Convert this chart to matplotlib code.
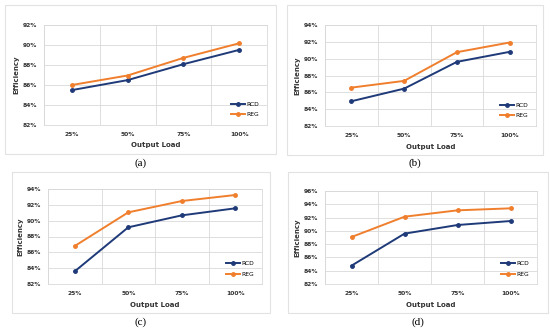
import matplotlib.pyplot as plt
from matplotlib.patches import Rectangle
from matplotlib.ticker import FuncFormatter

loads = ["25%", "50%", "75%", "100%"]

rcd_a = [85.49, 86.49, 88.08, 89.51]
reg_a = [86.0, 86.95, 88.71, 90.17]
rcd_b = [84.94, 86.44, 89.62, 90.81]
reg_b = [86.56, 87.36, 90.77, 91.92]
rcd_c = [83.6, 89.16, 90.67, 91.56]
reg_c = [86.8, 91.05, 92.48, 93.24]
rcd_d = [84.76, 89.58, 90.88, 91.48]
reg_d = [89.07, 92.13, 93.09, 93.39]

ylims = {"a": (82, 92), "b": (82, 94), "c": (82, 94), "d": (82, 96)}

W, H = 550, 332
fig = plt.figure(figsize=(W / 100, H / 100), dpi=100)

# pixel boxes: (left, top, right, bottom) for plot area, outer frame, caption y
panels = [
    ("a", rcd_a, reg_a, (44, 25, 267, 125), (5, 5, 276, 154), 163),
    ("b", rcd_b, reg_b, (325, 25, 536, 126), (287, 5, 543, 155), 163),
    ("c", rcd_c, reg_c, (48, 189, 262, 284), (12, 172, 270, 313), 322),
    ("d", rcd_d, reg_d, (325, 191, 537, 284), (288, 172, 548, 313), 322),
]

navy = "#1f3a78"
orange = "#f07f2d"
grid_c = "#d9d9d9"

for name, rcd, reg, pa, frame, cap_y in panels:
    l, t, r, b = pa
    ax = fig.add_axes([l / W, 1 - b / H, (r - l) / W, (b - t) / H])
    x = range(1, len(loads) + 1)
    ax.plot(x, rcd, color=navy, lw=1.4, marker="o", ms=2.5, label="RCD")
    ax.plot(x, reg, color=orange, lw=1.4, marker="o", ms=2.5, label="REG")
    lo, hi = ylims[name]
    ax.set_ylim(lo, hi)
    ax.set_xlim(0.5, 4.5)
    ax.set_yticks(range(lo, hi + 1, 2))
    ax.yaxis.set_major_formatter(FuncFormatter(lambda v, p: f"{int(v)}%"))
    ax.set_xticks(list(x))
    ax.set_xticklabels(loads)
    ax.set_xticks([0.5, 1.5, 2.5, 3.5, 4.5], minor=True)
    ax.grid(True, axis="y", color=grid_c, lw=0.6)
    ax.grid(True, axis="x", which="minor", color=grid_c, lw=0.6)
    ax.tick_params(axis="both", which="both", length=0, labelsize=4.3, pad=5,
                   colors="#333333")
    for lab in ax.get_xticklabels() + ax.get_yticklabels():
        lab.set_fontweight("bold")
    for s in ax.spines.values():
        s.set_color(grid_c)
        s.set_linewidth(0.6)
    ax.set_xlabel("Output Load", fontsize=5, fontweight="bold", color="#333333",
                  labelpad=4)
    ax.set_ylabel("Efficiency", fontsize=5, fontweight="bold", color="#333333",
                  labelpad=2)
    ax.legend(loc="lower right", bbox_to_anchor=(0.98, 0.04), frameon=False,
              fontsize=4.3, handlelength=2.4, handletextpad=0.2,
              labelspacing=0.9, borderaxespad=0.2)
    fl, ft, fr, fb = frame
    fig.patches.append(Rectangle((fl / W, 1 - fb / H), (fr - fl) / W, (fb - ft) / H,
                                 transform=fig.transFigure, fill=False,
                                 edgecolor="#e2e2e2", lw=0.8))
    fig.text((fl + fr) / 2 / W, 1 - cap_y / H, f"({name})", ha="center",
             va="center", fontsize=8, family="Liberation Serif")

fig.savefig("out.png", dpi=100, facecolor="white")
